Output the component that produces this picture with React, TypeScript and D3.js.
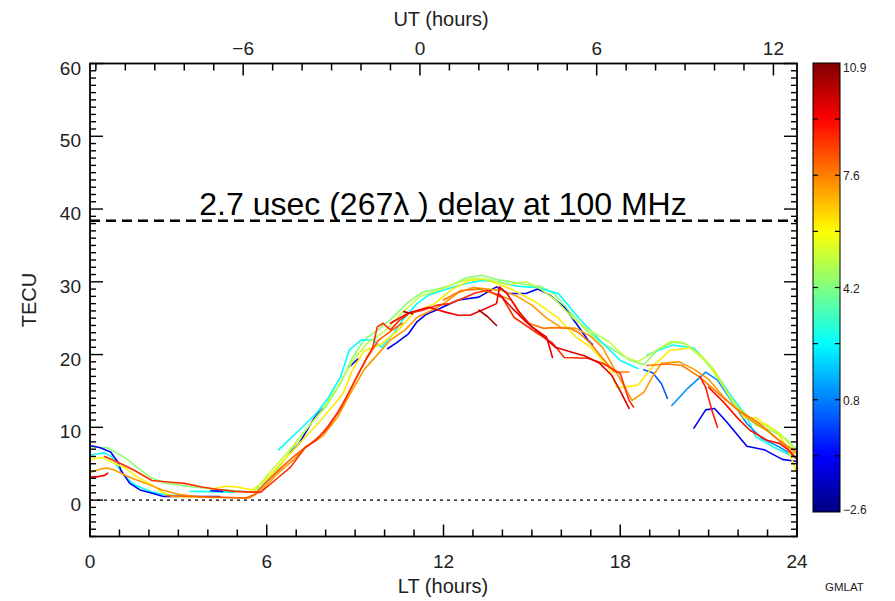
import React from "react";
import * as d3 from "d3";

// ---- data ----
const ltTicks = [0, 6, 12, 18, 24];
const utTicks = [-6, 0, 6, 12];
const tecTicks = [0, 10, 20, 30, 40, 50, 60];
const cbarLabels = ["10.9", "7.6", "4.2", "0.8", "\u22122.6"];
const latMin = -2.6;
const latMax = 10.9;
const utOffset = 11.2; // LT - UT
const delayTEC = 38.4;
const delayText = "2.7 usec (267\u03bb ) delay at 100 MHz";

// GMLAT of each trace and its points [LT hours, TECU]
const traceLat = [
  4.3, 2.5, 2.6, 2.5, 2.8, -1.0, -0.6, -1.2, -1.0, -1.2, 0.3, 1.0, -1.0,
  5.9, 6.1, 5.0, 7.2, 7.6, 7.6, 8.0, 8.6, 9.0, 9.4, 10.3, 10.2, 9.6, 9.4, 8.8,
];
const tracePts: number[][][] = [
  // green
  [[0,7.3],[0.6,7.2],[1.2,5.8],[1.6,4.5],[2.1,3.0],[2.6,2.3],[3.5,1.8],[4.6,1.4],[5.5,1.1],[5.8,1.8],[6.2,3.5],[6.6,5.5],[7.1,8.5],[7.6,11],[8.0,12.8],[8.5,16],[8.9,19.5],[9.3,22],[9.7,23.2],[10.2,24.8],[10.8,27.2],[11.3,28.6],[11.8,29],[12.3,29.6],[12.8,30.6],[13.3,30.9],[13.8,30.3],[14.3,30],[14.8,29.6],[15.3,29.4],[15.8,28.2],[16.3,25.8],[16.8,23.5],[17.3,21.8],[17.8,20.6],[18.3,19.3],[18.8,18.6],[19.3,20.8],[19.8,21.7],[20.2,21.5],[20.7,20],[21.2,17.5],[21.7,14.5],[22.1,12.5],[22.6,10.3],[23.1,9.6],[23.6,8.5],[24,6.9]],
  // cyan night
  [[0,6.2],[0.5,6.5],[0.75,5.9],[0.95,4.5],[1.2,3.2],[1.5,2.1],[2.1,1.1],[2.6,0.7],[3.5,0.5]],
  [[3.4,1.2],[4.9,1.1]],
  // cyan day
  [[6.4,6.9],[7.1,9.6],[7.7,12],[8.1,14.1],[8.5,16.9],[8.8,20.6],[9.2,22],[9.6,22],[9.9,21],[10.3,22.9],[10.6,24.7],[11.1,27],[11.5,28.2],[12.2,29.1],[12.7,29.7],[13.3,30.2],[13.8,30],[14.5,29.4],[15.2,29.2],[15.9,28.4],[16.6,25],[17.3,22],[18,19.2],[18.6,18.1]],
  [[18.9,19.9],[19.3,20.6],[19.8,21.3],[20.5,20.9],[21.1,18.3],[21.7,14.7],[22.3,11.4],[22.6,8.7],[23.2,7.3],[23.9,5.9],[24,5.8]],
  // dark blue
  [[0,7.5],[0.35,7.2],[0.7,6.6],[0.95,5.2],[1.05,4.1],[1.35,2.3],[1.7,1.4],[2.05,1.0],[2.5,0.5],[4.4,0.5]],
  [[4.1,1.3],[4.5,1.2]],
  [[6.8,6.5],[7.1,7.8],[7.6,11.2],[7.9,12.6]],
  [[8.8,18.3],[9.1,19.4]],
  [[10.1,20.8],[10.4,21.6],[10.8,22.8],[11.1,24.5],[11.4,25.5],[11.8,26.2],[12.5,27.5],[13.2,27.9],[13.8,29.3],[14.2,28.4],[14.8,28.4],[15.2,29],[15.6,28.2],[16.1,26.5],[16.5,24.3],[16.9,22],[17.05,21.4]],
  [[18.8,17.9],[19.1,17.5],[19.4,16],[19.6,14]],
  [[19.75,13],[20.3,15.4],[20.9,17.6],[21.3,16.5],[21.8,13.5],[22.3,10.5],[22.8,8.5],[23.4,7.3],[24,5.8]],
  [[20.5,9.9],[20.9,12.4],[21.2,12.6],[21.6,10.8],[22.3,7.4],[22.9,6.9],[23.5,5.6],[24,5.3]],
  // yellow
  [[0,5.6],[0.4,5.9],[0.75,5.2],[1.2,4.4],[1.6,3.2],[2.1,2.1],[2.45,1.1],[2.8,0.5],[3.6,0.4]],
  [[4.1,1.5],[4.6,1.9],[5.0,1.8],[5.5,1.4],[5.8,2.2],[6.2,3.8],[6.7,6],[7.2,8.2],[7.8,10.8],[8.3,13.2],[8.6,14.7],[8.9,17.8],[9.3,20.5],[9.9,21.5],[10.5,23.5],[11,25.8],[11.7,27],[12.3,29],[12.9,30.2],[13.4,30.4],[14.3,29],[15.1,27.3],[15.9,25],[16.5,22.4],[17,21],[17.6,18.3],[17.9,15.4],[18.6,15.8],[19.2,18.8],[19.7,20.6],[20.4,20.9],[20.8,19.6],[21.2,17.8],[21.6,15],[22.2,11.3],[22.6,11.3],[23.3,9.5],[23.7,6.9],[24,3.7]],
  // yellow-green
  [[5.6,1.3],[6.1,3.8],[6.7,6.5],[7.3,9.5],[7.9,12.5],[8.4,15.5],[8.9,19],[9.4,21.5],[10,23.2],[10.6,25.8],[11.2,28],[11.8,28.8],[12.4,29.8],[13,30.5],[13.6,30.2],[14.2,29.6],[14.8,30],[15.3,29],[15.8,27.5],[16.4,25],[17,23.2],[17.6,21.8],[18.2,19.6],[18.6,19],[19.2,20.5],[19.7,21.8],[20.1,21.7],[20.5,20.5],[21,18.7],[21.5,15.6],[21.9,13],[22.4,11.3],[22.9,10.3],[23.4,9.2],[23.8,7.5],[24,6.2]],
  // orange
  [[0,3.8],[0.4,4.3],[0.6,4.4],[0.85,4.1],[1.3,3.2],[1.9,2.3],[2.45,1.4],[3.0,0.8],[3.8,0.4],[5.4,0.3],[5.8,1.2],[6.4,3.8],[6.9,5.5],[7.3,7.3],[7.9,8.8],[8.4,11.4],[8.9,15.1],[9.3,17.9],[9.8,20.2],[10.2,22],[10.7,23.4],[11.1,25.1],[11.6,26.1],[12.0,27],[12.5,28.5],[13,29.2],[13.5,29],[14,28.8],[14.5,28],[15,26.8],[15.5,25],[16.0,23.7],[16.5,23.6],[17,22.5],[17.4,21],[17.8,18],[18.2,15.2],[18.4,13.7],[18.8,14.8],[19.1,17],[19.4,18.8],[20,19],[20.5,18],[21,16.6],[21.5,14.2],[22,12.3],[22.5,10.8],[23,9.5],[23.5,7.8],[23.9,6.4]],
  [[12.0,27.5],[12.6,28.8],[13.2,29],[13.8,28.3],[14.3,27.5],[14.6,25.5],[14.9,24.3],[15.4,23.6],[15.7,23.7],[16.3,23.6],[16.6,23.0],[17,21.5],[17.5,19],[17.8,17.6],[18.3,17.6]],
  [[18.9,18.5],[19.6,18.7],[20.1,18.5],[20.7,16.9],[21.6,13.7],[22,12.4],[22.7,10.6],[23.4,8.2],[24,6.5]],
  [[2.6,0.6],[3.5,0.5],[4.5,0.4],[5.3,0.3],[5.6,0.8],[6.0,2.5],[6.5,4.5],[7.0,6.3],[7.5,7.8],[8.0,9.5],[8.5,12.5],[9.0,16.5],[9.4,19.5],[9.8,22],[10.3,23.5],[10.6,24.3]],
  // red-orange
  [[0.5,6],[0.95,5.2],[1.5,4.1],[2.1,2.7],[2.65,2.5],[3.2,2.3],[3.8,1.8],[4.3,1.5],[4.9,1.2],[5.5,1.1],[5.8,1.1],[6.3,2.8],[6.8,4.5],[7.3,7.2],[7.7,8.3],[8.05,10],[8.4,12],[8.7,14.1],[9.05,16.9],[9.4,19.6],[9.6,21],[9.75,23.8],[9.95,24.3],[10.2,23.4],[10.5,24.7],[10.85,25.7],[11.3,26.1],[11.8,26.8],[12.2,27],[12.7,27.8],[13.1,28.5],[13.5,28.8],[14,27.8],[14.4,25.1],[15.2,22.9],[15.7,21.6],[16.1,19.6],[16.9,19.5],[17.4,18.8],[18,17.4],[18.3,13.7],[18.45,12.8]],
  [[21.0,15.5],[21.5,13.5],[22,11.2],[22.4,9.6],[23,8.2],[23.4,7.8],[23.7,6.9],[24,5.6]],
  // red
  [[10.2,24.3],[10.8,25.7],[11.5,26.5],[12.1,25.8],[12.5,25.4],[12.9,25.4],[13.3,26.1],[13.8,27],[13.9,29.3],[14.15,28.4],[14.6,25.7],[15,23.8],[15.5,22.4],[15.6,21],[15.7,19.6]],
  [[13.2,26.1],[13.5,25.2],[13.8,24]],
  [[10.65,25.9],[10.95,25.6]],
  [[13.9,28.3],[14.3,26.5],[14.8,24.5],[15.3,22.8],[15.8,21],[16.3,20.4],[16.8,19.8],[17.3,18.8],[17.7,17.2],[18.0,15],[18.3,12.6]],
  [[0,3.2],[0.25,3.2],[0.5,3.4],[0.6,3.7]],
  [[20.7,17],[20.9,15.5],[21.1,12.5],[21.3,10]],
];

function jet(v: number) {
  const t = (v - latMin) / (latMax - latMin);
  const c = (a: number) => Math.max(0, Math.min(1, a));
  const r = c(1.5 - Math.abs(4 * t - 3));
  const g = c(1.5 - Math.abs(4 * t - 2));
  const b = c(1.5 - Math.abs(4 * t - 1));
  return d3.rgb(r * 255, g * 255, b * 255).formatHex();
}

const W = 895, H = 601;
const X0 = 90, X1 = 797, Y0 = 63.5, Y1 = 536.5;
const CB = { x0: 813, x1: 840, y0: 63, y1: 512 };
const FONT = "'Liberation Sans', Arial, sans-serif";

export default function App() {
  const x = d3.scaleLinear().domain([0, 24]).range([X0, X1]);
  const xt = d3.scaleLinear().domain([-utOffset, 24 - utOffset]).range([X0, X1]);
  const y = d3.scaleLinear().domain([-5, 60]).range([Y1, Y0]);
  const line = d3.line<number[]>().x((d) => x(d[0])).y((d) => y(d[1]));
  const cb = d3.scaleLinear().domain([latMin, latMax]).range([CB.y1, CB.y0]);

  const ltMinor = d3.range(0, 25);
  const utMinor = d3.range(Math.ceil(-utOffset), Math.floor(24 - utOffset) + 1);
  const tecMinor = d3.range(-5, 61);
  const gradStops = d3.range(0, 1.0001, 0.02);
  const cbTicks = d3.range(1, 8).map((k) => latMin + (k * (latMax - latMin)) / 8);
  const cbLabelVals = [0, 2, 4, 6, 8].map((k) => latMax - (k * (latMax - latMin)) / 8);

  return (
    <svg width={W} height={H} style={{ position: "absolute", left: 0, top: 0, background: "#fff" }} fontFamily={FONT}>
      <defs>
        <linearGradient id="jet" x1="0" y1="1" x2="0" y2="0">
          {gradStops.map((s, i) => (
            <stop key={i} offset={s} stopColor={jet(latMin + s * (latMax - latMin))} />
          ))}
        </linearGradient>
        <clipPath id="plot">
          <rect x={X0} y={Y0} width={X1 - X0} height={Y1 - Y0} />
        </clipPath>
      </defs>
      <rect width={W} height={H} fill="#fff" />

      {/* zero line */}
      <line x1={X0} x2={X1} y1={y(0)} y2={y(0)} stroke="#000" strokeWidth={1.4} strokeDasharray="3,4" />

      {/* traces */}
      <g clipPath="url(#plot)" fill="none" strokeWidth={1.6} strokeLinejoin="round" strokeLinecap="round">
        {tracePts.map((pts, i) => (
          <path key={i} d={line(pts) || ""} stroke={jet(traceLat[i])} />
        ))}
      </g>

      {/* delay line + label */}
      <line x1={X0} x2={X1} y1={y(delayTEC)} y2={y(delayTEC)} stroke="#000" strokeWidth={2.5} strokeDasharray="10,6" />
      <text x={443} y={215} fontSize={32} textAnchor="middle" fill="#000">{delayText}</text>

      {/* frame */}
      <rect x={X0} y={Y0} width={X1 - X0} height={Y1 - Y0} fill="none" stroke="#000" strokeWidth={1.8} />

      {/* bottom & top ticks */}
      {ltMinor.map((v) => {
        const len = v % 6 === 0 ? 12 : 7;
        return <line key={"b" + v} x1={x(v)} x2={x(v)} y1={Y1} y2={Y1 - len} stroke="#000" strokeWidth={1.5} />;
      })}
      {utMinor.map((v) => {
        const len = v % 6 === 0 ? 12 : 7;
        return <line key={"t" + v} x1={xt(v)} x2={xt(v)} y1={Y0} y2={Y0 + len} stroke="#000" strokeWidth={1.5} />;
      })}
      {/* left & right ticks */}
      {tecMinor.map((v) => {
        const len = v % 10 === 0 ? 13 : 6;
        return (
          <g key={"y" + v}>
            <line x1={X0} x2={X0 + len} y1={y(v)} y2={y(v)} stroke="#000" strokeWidth={1.4} />
            <line x1={X1} x2={X1 - len} y1={y(v)} y2={y(v)} stroke="#000" strokeWidth={1.4} />
          </g>
        );
      })}

      {/* tick labels */}
      {ltTicks.map((v) => (
        <text key={"bl" + v} x={x(v)} y={568} fontSize={19} textAnchor="middle" fill="#222">{v}</text>
      ))}
      {utTicks.map((v) => (
        <text key={"tl" + v} x={xt(v)} y={55} fontSize={19} textAnchor="middle" fill="#222">
          {v < 0 ? "\u2212" + Math.abs(v) : v}
        </text>
      ))}
      {tecTicks.map((v) => (
        <text key={"yl" + v} x={81} y={y(v) + 11} fontSize={19} textAnchor="end" fill="#222">{v}</text>
      ))}

      {/* axis titles */}
      <text x={443} y={593} fontSize={20} textAnchor="middle" fill="#222">LT (hours)</text>
      <text x={441} y={26} fontSize={20} textAnchor="middle" fill="#222">UT (hours)</text>
      <text transform={`translate(36,300) rotate(-90)`} fontSize={20} textAnchor="middle" fill="#222">TECU</text>

      {/* colorbar */}
      <rect x={CB.x0} y={CB.y0} width={CB.x1 - CB.x0} height={CB.y1 - CB.y0} fill="url(#jet)" stroke="#000" strokeWidth={1} />
      {cbTicks.map((v, i) => (
        <g key={"cb" + i}>
          <line x1={CB.x0} x2={CB.x0 + 5} y1={cb(v)} y2={cb(v)} stroke="#000" strokeWidth={1.2} />
          <line x1={CB.x1} x2={CB.x1 - 5} y1={cb(v)} y2={cb(v)} stroke="#000" strokeWidth={1.2} />
        </g>
      ))}
      {cbLabelVals.map((v, i) => (
        <text key={"cbl" + i} x={843} y={cb(v) + (i === 0 ? 9 : i === 4 ? 2 : 5)} fontSize={12} fill="#222">{cbarLabels[i]}</text>
      ))}
      <text x={825} y={591} fontSize={11.5} fill="#222">GMLAT</text>
    </svg>
  );
}
